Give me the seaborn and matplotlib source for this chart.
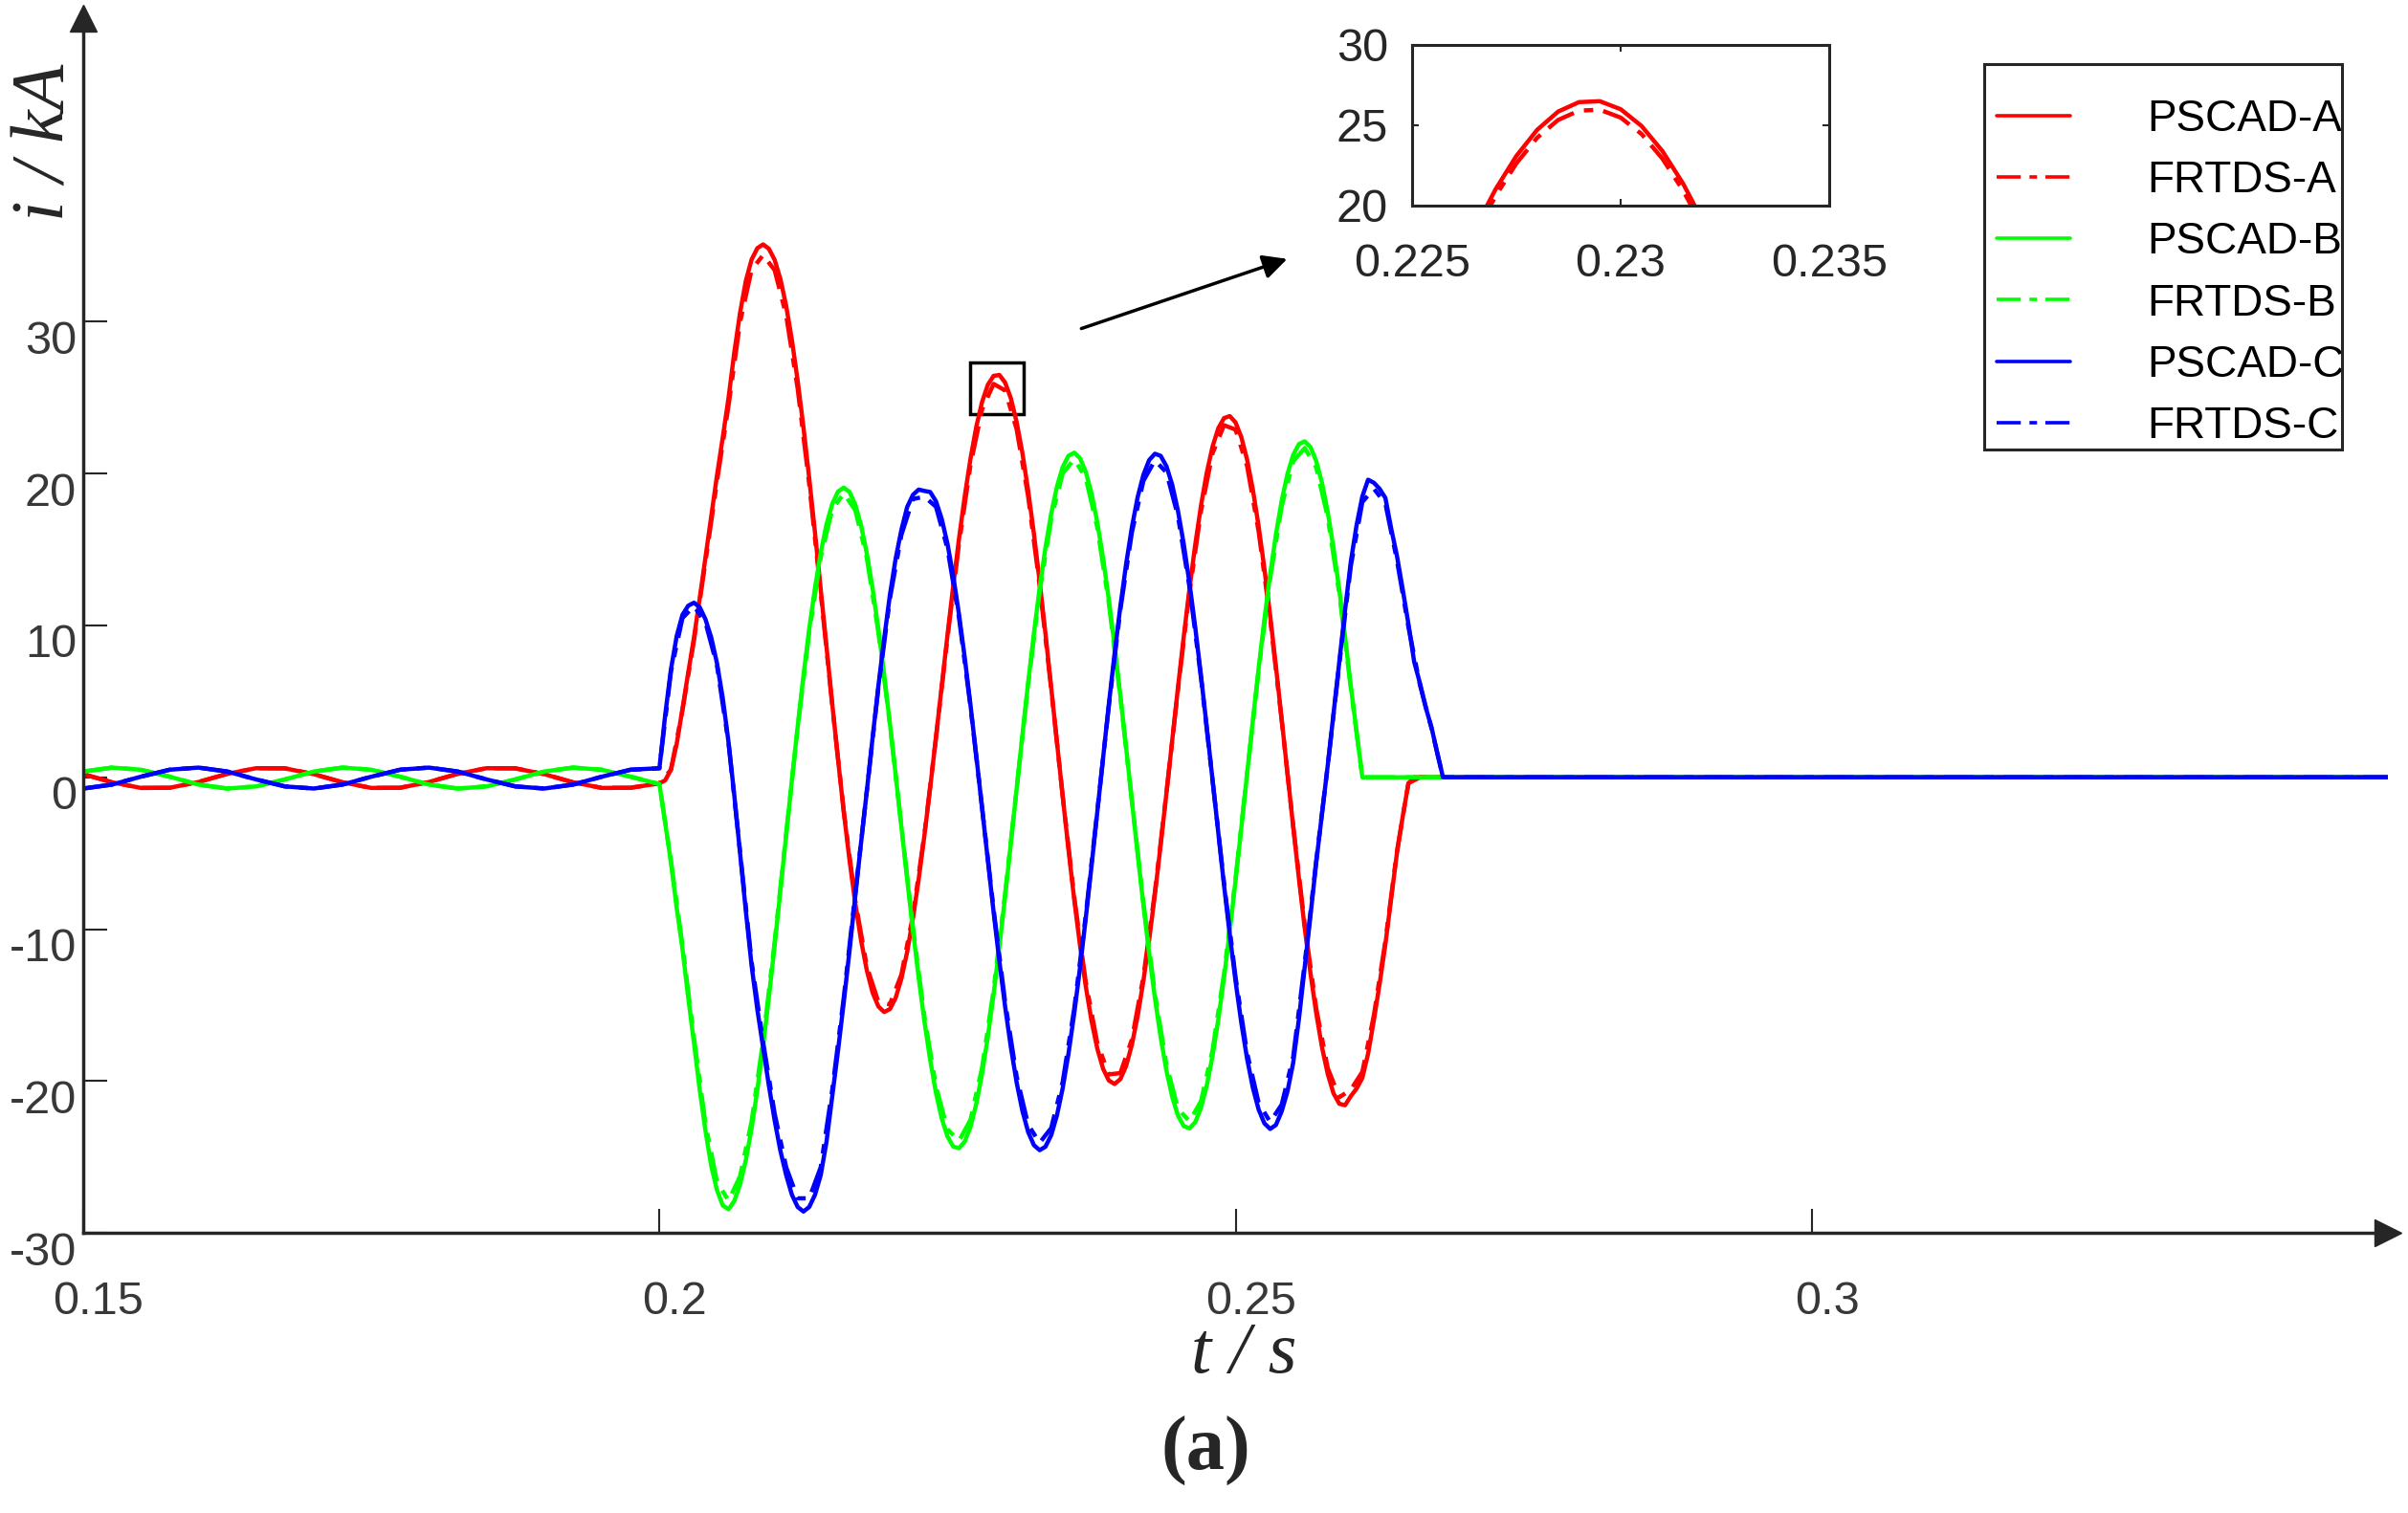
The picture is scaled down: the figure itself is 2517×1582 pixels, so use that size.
import numpy as np
import matplotlib
matplotlib.use("Agg")
import matplotlib.pyplot as plt
import matplotlib.transforms as mtransforms
from matplotlib.patches import Rectangle
import seaborn as sns

sns.set_style("ticks")
plt.rcParams["font.family"] = ["Liberation Sans", "DejaVu Sans"]
plt.rcParams["axes.unicode_minus"] = False

# ---- values (kA) ----
t_pre = np.linspace(0.15, 0.1975, 20)      # pre-fault, 2.5 ms apart
t_fine = np.linspace(0.200, 0.268, 137)    # PSCAD during fault, 0.5 ms apart
t_coarse = np.linspace(0.200, 0.268, 69)   # FRTDS during fault, 1 ms apart
t_end = 0.35

pre_a = [0.21, -0.33, -0.70, -0.69, -0.31, 0.23, 0.60, 0.59, 0.21, -0.33,
         -0.70, -0.69, -0.31, 0.23, 0.60, 0.59, 0.21, -0.33, -0.70, -0.69]
pre_b = [0.38, 0.64, 0.50, 0.04, -0.48, -0.74, -0.60, -0.14, 0.38, 0.64,
         0.50, 0.04, -0.48, -0.74, -0.60, -0.14, 0.38, 0.64, 0.50, 0.04]
pre_c = [-0.74, -0.48, 0.04, 0.50, 0.64, 0.38, -0.14, -0.60, -0.74, -0.48,
         0.04, 0.50, 0.64, 0.38, -0.14, -0.60, -0.74, -0.48, 0.04, 0.50]

pscad_a = [-0.40, -0.20, 0.50, 2.20, 4.50, 6.90, 9.20, 11.80, 14.50, 17.20,
           19.90, 22.40, 25.00, 28.00, 30.60, 32.70, 34.10, 34.85, 35.10, 34.81,
           34.08, 32.82, 31.05, 28.79, 26.11, 23.06, 19.70, 16.12, 12.39, 8.60,
           4.83, 1.18, -2.29, -5.47, -8.31, -10.75, -12.72, -14.18, -15.09, -15.46,
           -15.27, -14.53, -13.26, -11.50, -9.29, -6.71, -3.81, -0.67, 2.64, 6.02,
           9.38, 12.64, 15.72, 18.53, 21.01, 23.09, 24.72, 25.85, 26.44, 26.50,
           26.00, 24.96, 23.40, 21.36, 18.88, 16.04, 12.87, 9.48, 5.93, 2.32,
           -1.28, -4.76, -8.06, -11.08, -13.77, -16.05, -17.87, -19.19, -19.97, -20.20,
           -19.88, -19.01, -17.62, -15.74, -13.41, -10.72, -7.70, -4.45, -1.04, 2.44,
           5.90, 9.25, 12.43, 15.33, 17.90, 20.07, 21.78, 22.99, 23.66, 23.79,
           23.37, 22.40, 20.92, 18.95, 16.53, 13.75, 10.65, 7.32, 3.83, 0.27,
           -3.26, -6.69, -9.93, -12.91, -15.54, -17.78, -19.55, -20.82, -21.50, -21.60,
           -21.00, -20.50, -19.80, -18.20, -16.00, -13.60, -11.00, -8.00, -5.00, -2.60,
           -0.40, 0.00, 0.00, 0.00, 0.00, 0.00, 0.00]
frtds_a = [-0.39, 0.49, 4.41, 9.02, 14.21, 19.50, 24.50, 29.99, 33.42, 34.40,
           33.40, 30.43, 25.59, 19.31, 12.14, 4.73, -2.24, -8.14, -12.47, -14.79,
           -14.96, -12.99, -9.10, -3.73, 2.59, 9.19, 15.41, 20.59, 24.23, 25.91,
           25.48, 22.93, 18.50, 12.61, 5.81, -1.25, -7.90, -13.49, -17.51, -19.57,
           -19.48, -17.27, -13.14, -7.55, -1.02, 5.78, 12.18, 17.54, 21.34, 23.19,
           22.90, 20.50, 16.20, 10.44, 3.75, -3.19, -9.73, -15.23, -19.16, -21.07,
           -20.58, -19.40, -15.68, -10.78, -4.90, -0.39, 0.00, 0.00, 0.00]

pscad_b = [-0.45, -3.00, -5.60, -8.60, -11.30, -14.50, -17.50, -20.60, -23.30, -25.60,
           -27.20, -28.20, -28.45, -27.90, -26.81, -25.21, -23.12, -20.59, -17.69, -14.48,
           -11.05, -7.46, -3.80, -0.16, 3.36, 6.70, 9.76, 12.48, 14.80, 16.66,
           18.01, 18.82, 19.08, 18.79, 17.95, 16.59, 14.74, 12.44, 9.77, 6.78,
           3.56, 0.18, -3.28, -6.72, -10.05, -13.20, -16.09, -18.63, -20.78, -22.47,
           -23.66, -24.32, -24.43, -23.99, -23.01, -21.50, -19.52, -17.09, -14.29, -11.18,
           -7.83, -4.33, -0.76, 2.79, 6.23, 9.49, 12.48, 15.13, 17.37, 19.15,
           20.44, 21.18, 21.38, 21.02, 20.12, 18.70, 16.79, 14.44, 11.71, 8.67,
           5.39, 1.96, -1.55, -5.03, -8.41, -11.61, -14.54, -17.13, -19.32, -21.05,
           -22.28, -22.97, -23.12, -22.71, -21.77, -20.30, -18.35, -15.95, -13.18, -10.10,
           -6.78, -3.31, 0.23, 3.76, 7.17, 10.40, 13.36, 15.99, 18.21, 19.97,
           21.23, 21.95, 22.13, 21.75, 20.83, 19.39, 17.46, 15.09, 12.35, 9.28,
           6.00, 3.00, 0.00, 0.00, 0.00, 0.00, 0.00, 0.00, 0.00, 0.00,
           0.00, 0.00, 0.00, 0.00, 0.00, 0.00, 0.00]
frtds_b = [-0.44, -5.49, -11.07, -17.15, -22.83, -26.66, -27.88, -26.27, -22.66, -17.34,
           -10.83, -3.72, 3.29, 9.56, 14.50, 17.65, 18.70, 17.59, 14.45, 9.57,
           3.49, -3.21, -9.85, -15.77, -20.36, -23.19, -23.94, -22.55, -19.13, -14.00,
           -7.67, -0.74, 6.11, 12.23, 17.02, 20.03, 20.95, 19.72, 16.45, 11.48,
           5.28, -1.52, -8.24, -14.25, -18.93, -21.83, -22.66, -21.33, -17.98, -12.92,
           -6.64, 0.23, 7.03, 13.09, 17.85, 20.81, 21.69, 20.41, 17.11, 12.10,
           5.88, 0.00, 0.00, 0.00, 0.00, 0.00, 0.00, 0.00, 0.00]

pscad_c = [0.60, 4.10, 7.10, 9.30, 10.70, 11.30, 11.50, 11.20, 10.40, 9.20,
           7.50, 5.20, 2.30, -1.20, -5.00, -8.80, -12.40, -15.30, -17.80, -20.30,
           -22.60, -24.60, -26.20, -27.50, -28.30, -28.60, -28.30, -27.50, -26.20, -24.00,
           -21.00, -18.00, -14.80, -11.40, -7.80, -4.30, -0.90, 2.60, 6.00, 9.10,
           12.00, 14.40, 16.30, 17.80, 18.60, 18.95, 18.86, 18.79, 18.18, 17.02,
           15.37, 13.25, 10.72, 7.86, 4.72, 1.40, -2.03, -5.48, -8.87, -12.10,
           -15.10, -17.78, -20.10, -21.97, -23.36, -24.23, -24.56, -24.33, -23.57, -22.26,
           -20.46, -18.20, -15.54, -12.54, -9.27, -5.83, -2.27, 1.30, 4.80, 8.14,
           11.25, 14.04, 16.46, 18.44, 19.92, 20.89, 21.31, 21.17, 20.49, 19.27,
           17.55, 15.37, 12.79, 9.87, 6.68, 3.30, -0.18, -3.69, -7.12, -10.40,
           -13.45, -16.18, -18.53, -20.45, -21.88, -22.79, -23.16, -22.90, -22.00, -20.70,
           -18.80, -15.90, -12.50, -9.10, -5.60, -2.40, 0.80, 4.20, 7.60, 11.00,
           14.20, 16.60, 18.50, 19.60, 19.40, 19.00, 18.40, 16.40, 14.60, 12.40,
           10.10, 7.60, 6.20, 4.60, 3.30, 1.60, 0.00]
frtds_c = [0.59, 6.96, 10.49, 11.27, 10.19, 7.35, 2.25, -4.90, -12.15, -17.44,
           -22.15, -25.68, -27.73, -27.73, -25.68, -20.58, -14.50, -7.64, -0.88, 5.88,
           11.76, 15.97, 18.33, 18.48, 17.82, 15.06, 10.51, 4.63, -1.99, -8.69,
           -14.80, -19.70, -22.89, -24.07, -23.10, -20.05, -15.23, -9.08, -2.22, 4.70,
           11.03, 16.13, 19.52, 20.88, 20.08, 17.20, 12.53, 6.55, -0.18, -6.98,
           -13.18, -18.16, -21.44, -22.70, -21.56, -18.42, -12.25, -5.49, 0.78, 7.45,
           13.92, 18.13, 19.01, 18.03, 14.31, 9.90, 6.08, 3.23, 0.00]

# FRTDS phase A sampled finer around the second peak (zoom box)
zoom_t = np.linspace(0.2260, 0.2325, 14)
zoom_frtds_a = [15.41, 18.16, 20.59, 22.63, 24.23, 25.33, 25.91,
                25.97, 25.48, 24.46, 22.93, 20.93, 18.50, 15.72]

labels = ["PSCAD-A", "FRTDS-A", "PSCAD-B", "FRTDS-B", "PSCAD-C", "FRTDS-C"]
colors = ["#ff0000", "#ff0000", "#00ff00", "#00ff00", "#0000ff", "#0000ff"]
pre_vals = [pre_a, pre_a, pre_b, pre_b, pre_c, pre_c]
fault_vals = [pscad_a, frtds_a, pscad_b, frtds_b, pscad_c, frtds_c]
fault_times = [t_fine, t_coarse] * 3

DASHDOT = (0, (7, 2.5, 2.2, 2.4))
DARK = "#262626"
LW = 3.2

fig = plt.figure(figsize=(25.17, 15.82), dpi=100)
ax = fig.add_axes([0.03457, 0.1852, 0.95709, 0.8028])

handles = []
for lab, col, pre, tf, fault in zip(labels, colors, pre_vals, fault_times, fault_vals):
    x_all = np.concatenate([t_pre, tf, [t_end]])
    y_all = np.concatenate([pre, fault, [0.0]])
    sns.lineplot(x=x_all, y=y_all, ax=ax, color=col, linewidth=LW,
                 estimator=None, sort=False)
    line = ax.lines[-1]
    if lab.startswith("FRTDS"):
        line.set_linestyle(DASHDOT)
    handles.append(line)

ax.set_xlim(0.15, 0.35)
ax.set_ylim(-30, 50)
ax.set_xticks([0.15, 0.2, 0.25, 0.3])
ax.set_xticklabels(["0.15", "0.2", "0.25", "0.3"])
ax.set_yticks([-30, -20, -10, 0, 10, 20, 30])
ax.set_yticklabels(["-30", "-20", "-10", "0", "10", "20", "30"])
sns.despine(ax=ax)
for s in ["left", "bottom"]:
    ax.spines[s].set_linewidth(2.5)
    ax.spines[s].set_color(DARK)
ax.tick_params(direction="in", length=18, width=1.5, color=DARK,
               labelsize=35, labelcolor="#383838")
ax.tick_params(axis="x", pad=36)
ax.tick_params(axis="y", pad=5)

# axis arrows
ax.plot(1, 0, marker=">", ms=20, color=DARK, transform=ax.transAxes, clip_on=False)
ax.plot(0, 1, marker="^", ms=20, color=DARK, transform=ax.transAxes, clip_on=False)

# tick labels sit slightly off their ticks in the original
off_x = mtransforms.ScaledTranslation(0.16, 0, fig.dpi_scale_trans)
off_y = mtransforms.ScaledTranslation(0, -0.16, fig.dpi_scale_trans)
for lbl in ax.get_xticklabels():
    lbl.set_transform(lbl.get_transform() + off_x)
for lbl in ax.get_yticklabels():
    lbl.set_transform(lbl.get_transform() + off_y)

ax.set_xlabel("t / s", fontfamily="Liberation Serif", fontstyle="italic", fontsize=55)
ax.xaxis.set_label_coords(0.5035, -0.100)
ax.xaxis.label.set_va("center")
ax.set_ylabel("i / kA", fontfamily="Liberation Serif", fontstyle="italic", fontsize=56)
ax.yaxis.set_label_coords(-0.0162, 0.898)
ax.yaxis.label.set_va("center")
ax.yaxis.label.set_ha("center")

# zoom marker box and arrow
ax.add_patch(Rectangle((0.2270, 23.9), 0.0046, 3.45, fill=False, lw=2.5, ec="black"))
ax.annotate("", xy=(0.2547, 34.2), xytext=(0.2364, 29.5),
            arrowprops=dict(arrowstyle="-|>", color="black", lw=2.5, mutation_scale=38))

# legend entries + frame drawn separately, as in the original
leg = ax.legend(handles, labels, loc="upper left",
                bbox_to_anchor=(2087 / 2517, 1 - 103 / 1582), bbox_transform=fig.transFigure,
                fontsize=33, handlelength=1.68, handletextpad=1.75, labelspacing=0.44,
                borderpad=0, borderaxespad=0, frameon=False)
for txt in leg.get_texts():
    txt.set_color("black")
for h in leg.legend_handles:
    h.set_linewidth(2.6)
fig.add_artist(Rectangle((2074 / 2517, 1 - 470 / 1582), 374 / 2517, 403 / 1582,
                         transform=fig.transFigure, fill=False, lw=2.2, ec=DARK))

# inset
axin = fig.add_axes([1476 / 2517, 1 - 215 / 1582, 436 / 2517, 168 / 1582])
sns.lineplot(x=np.concatenate([t_pre, t_fine]), y=np.concatenate([pre_a, pscad_a]),
             ax=axin, color="#ff0000", linewidth=LW, estimator=None, sort=False)
sns.lineplot(x=zoom_t, y=zoom_frtds_a, ax=axin, color="#ff0000", linewidth=LW,
             estimator=None, sort=False)
axin.lines[-1].set_linestyle(DASHDOT)
axin.set_xlim(0.225, 0.235)
axin.set_ylim(20, 30)
axin.set_xticks([0.225, 0.23, 0.235])
axin.set_xticklabels(["0.225", "0.23", "0.235"])
axin.set_yticks([20, 25, 30])
axin.set_yticklabels(["20", "25", "30"])
for s in axin.spines.values():
    s.set_linewidth(2.2)
    s.set_color(DARK)
axin.tick_params(direction="in", length=5, width=1.5, color=DARK, top=True, right=True,
                 labelsize=35, labelcolor=DARK)
axin.tick_params(axis="x", pad=28)
axin.tick_params(axis="y", pad=18)
axin.set_xlabel("")
axin.set_ylabel("")

fig.text(0.5006, 0.0405, "(a)", ha="center", va="center",
         fontfamily="Liberation Serif", fontweight="bold", fontsize=58)

fig.savefig("out.png", dpi=100)
